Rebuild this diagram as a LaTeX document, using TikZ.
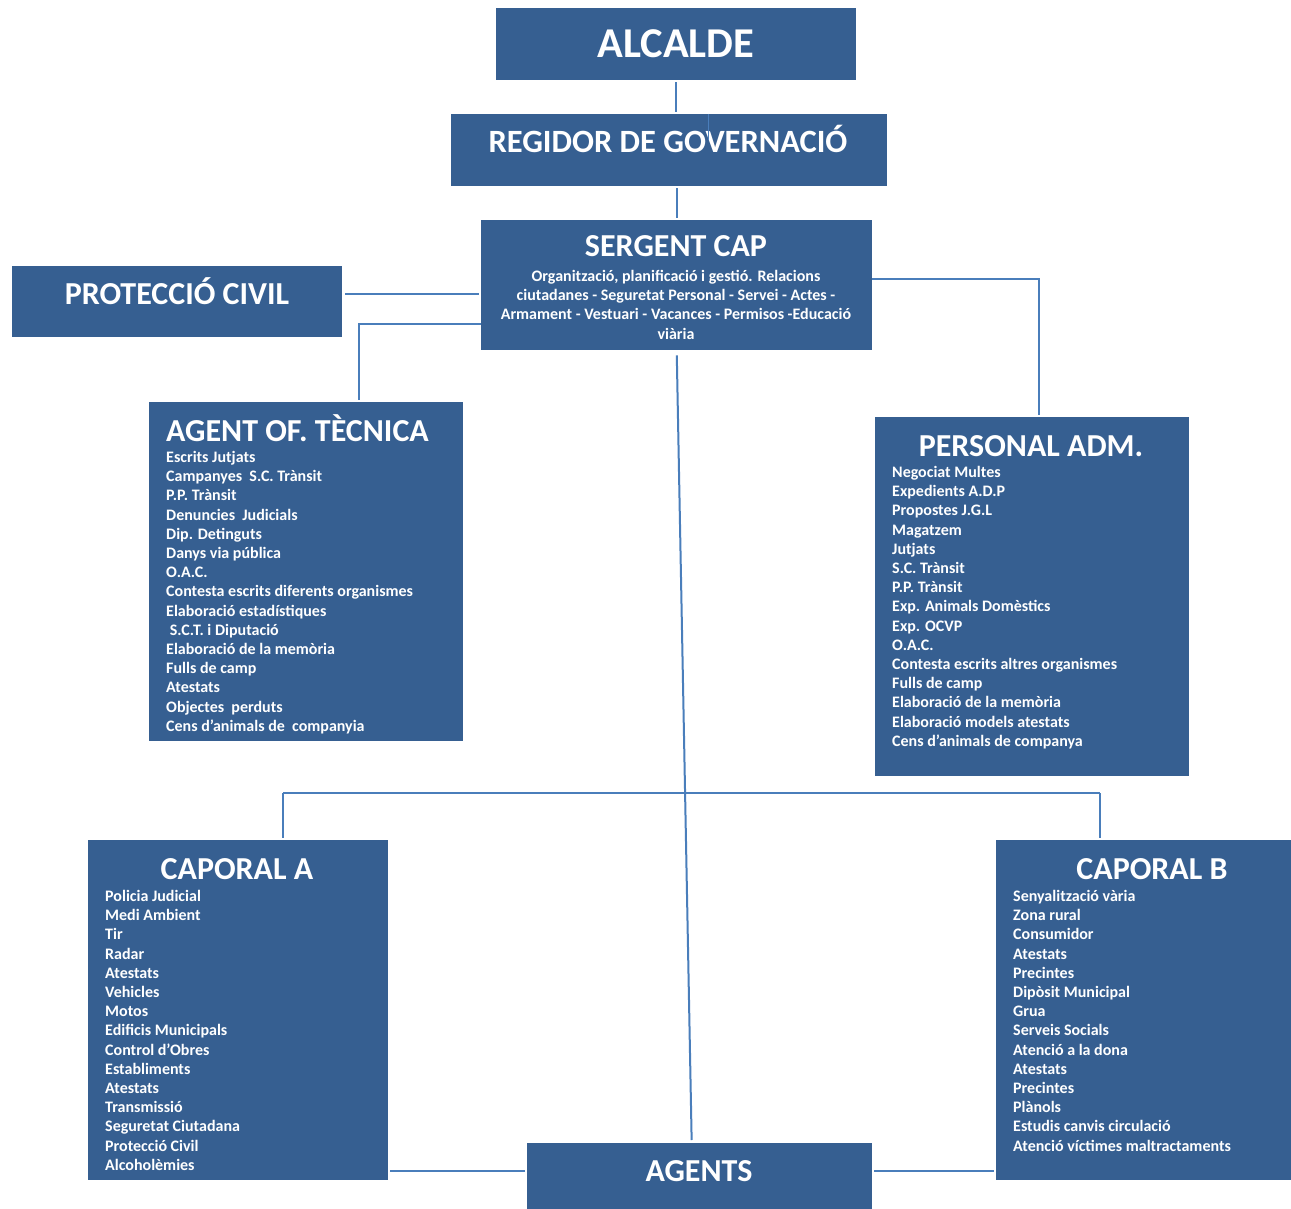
\documentclass[tikz,border=0pt]{standalone}
\usepackage{fontspec}
\setmainfont{Carlito}
\definecolor{boxblue}{HTML}{365F91}
\definecolor{lineblue}{HTML}{4A7EBB}
\tikzset{
 box/.style={rectangle, fill=boxblue, draw=none, inner sep=0pt, anchor=north west},
 title/.style={text=white, font=\bfseries\fontsize{32}{38}\selectfont, inner sep=0pt, anchor=base},
 duty/.style={text=white, font=\bfseries\fontsize{16}{19.2}\selectfont, align=left, inner sep=0pt, anchor=north west},
 link/.style={draw=lineblue, line width=2pt}
}
\begin{document}
\begin{tikzpicture}[x=1pt, y=-1pt]
 \useasboundingbox[fill=white] (0,0) rectangle (1291,1209);

 % boxes
 \draw node[box, minimum width=360pt, minimum height=72pt] (alcalde) at (496,8) {};
 \draw node[box, minimum width=436pt, minimum height=72pt] (regidor) at (451,114) {};
 \draw node[box, minimum width=391pt, minimum height=130pt] (sergent) at (481,220) {};
 \draw node[box, minimum width=330pt, minimum height=71pt] (proteccio) at (12,266) {};
 \draw node[box, minimum width=314pt, minimum height=339pt] (tecnica) at (149,402) {};
 \draw node[box, minimum width=314pt, minimum height=359pt] (personal) at (875,417) {};
 \draw node[box, minimum width=300pt, minimum height=340pt] (caporalA) at (88,840) {};
 \draw node[box, minimum width=295pt, minimum height=340pt] (caporalB) at (996,840) {};
 \draw node[box, minimum width=345pt, minimum height=66pt] (agents) at (527,1143) {};

 % titles
 \draw node[title, font=\bfseries\fontsize{42.5}{48}\selectfont] (alcaldeT) at (676,58) {ALCALDE};
 \draw node[title, font=\bfseries\fontsize{32.5}{38}\selectfont] (regidorT) at (668,153) {REGIDOR DE GOVERNACIÓ};
 \draw node[title] (sergentT) at (676,257) {SERGENT CAP};
 \draw node[title] (proteccioT) at (177,305) {PROTECCIÓ CIVIL};
 \draw node[title, anchor=base west] (tecnicaT) at (166,441) {AGENT OF. TÈCNICA};
 \draw node[title] (personalT) at (1031,456) {PERSONAL ADM.};
 \draw node[title] (caporalAT) at (237,879) {CAPORAL A};
 \draw node[title] (caporalBT) at (1152,879) {CAPORAL B};
 \draw node[title] (agentsT) at (699,1181) {AGENTS};

 % duties
 \draw node[duty, align=center, anchor=north] (sergentD) at (676,270)
  {Organització, planificació i gestió. Relacions\\
   ciutadanes - Seguretat Personal - Servei - Actes -\\
   Armament - Vestuari - Vacances - Permisos -Educació\\
   viària};
 \draw node[duty] (tecnicaD) at (166,451)
  {Escrits Jutjats\\ Campanyes~ S.C. Trànsit\\ P.P. Trànsit\\ Denuncies~ Judicials\\
   Dip. Detinguts\\ Danys via pública\\ O.A.C.\\ Contesta escrits diferents organismes\\
   Elaboració estadístiques\\ \ S.C.T. i Diputació\\ Elaboració de la memòria\\
   Fulls de camp\\ Atestats\\ Objectes~ perduts\\ Cens d’animals de~ companyia};
 \draw node[duty] (personalD) at (892,466)
  {Negociat Multes\\ Expedients A.D.P\\ Propostes J.G.L\\ Magatzem\\ Jutjats\\
   S.C. Trànsit\\ P.P. Trànsit\\ Exp. Animals Domèstics\\ Exp. OCVP\\ O.A.C.\\
   Contesta escrits altres organismes\\ Fulls de camp\\ Elaboració de la memòria\\
   Elaboració models atestats\\ Cens d’animals de companya};
 \draw node[duty] (caporalAD) at (105,890)
  {Policia Judicial\\ Medi Ambient\\ Tir\\ Radar\\ Atestats\\ Vehicles\\ Motos\\
   Edificis Municipals\\ Control d’Obres\\ Establiments\\ Atestats\\ Transmissió\\
   Seguretat Ciutadana\\ Protecció Civil\\ Alcoholèmies};
 \draw node[duty] (caporalBD) at (1013,890)
  {Senyalització vària\\ Zona rural\\ Consumidor\\ Atestats\\ Precintes\\
   Dipòsit Municipal\\ Grua\\ Serveis Socials\\ Atenció a la dona\\ Atestats\\
   Precintes\\ Plànols\\ Estudis canvis circulació\\ Atenció víctimes maltractaments};

 % connectors
 \coordinate (bar) at (676,793);
 \draw[link, shorten <=2pt, shorten >=2pt] (alcalde.south) -- (alcalde.south |- regidor.north);
 \draw[link, line width=1.2pt] ([xshift=39pt]regidor.north) -- ++(0,26);
 \draw[link, shorten <=2pt, shorten >=2pt] (sergent.north |- regidor.south) -- (sergent.north);
 \draw[link, shorten <=3pt, shorten >=2pt] ([yshift=7.5pt]proteccio.east) -- ([yshift=7.5pt]proteccio.east -| sergent.west);
 \draw[link, shorten >=2pt] ([yshift=-39pt]sergent.west) -| (tecnica.north -| 359,0);
 \draw[link, shorten >=2pt] ([yshift=6pt]sergent.east) -| ([xshift=7pt]personal.north);
 \draw[link, shorten <=5pt, shorten >=3pt] (sergent.south) -- ([xshift=-8pt]agents.north);
 \draw[link, shorten >=2pt] (bar -| 283,0) -- (caporalA.north -| 283,0);
 \draw[link] (bar -| 283,0) -- (bar -| 1100,0);
 \draw[link, shorten >=2pt] (bar -| 1100,0) -- (caporalB.north -| 1100,0);
 \draw[link, shorten <=2pt, shorten >=2pt] ([yshift=5pt]agents.west) -- ([yshift=5pt]agents.west -| caporalA.east);
 \draw[link, shorten <=2pt, shorten >=2pt] ([yshift=5pt]agents.east) -- ([yshift=5pt]agents.east -| caporalB.west);
\end{tikzpicture}
\end{document}
